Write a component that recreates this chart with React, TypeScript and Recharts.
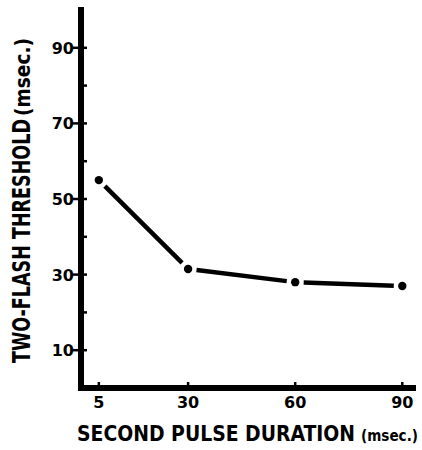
import React from 'react';
import { LineChart, Line, XAxis, YAxis, Label } from 'recharts';

const durations = [5, 30, 60, 90];
const thresholds = [55, 31.5, 28, 27];
const xTicks = [5, 30, 60, 90];
const yTicks = [10, 20, 30, 40, 50, 60, 70, 80, 90];
const yLabeled = [10, 30, 50, 70, 90];

const data = durations.map((d, i) => ({ d, t: thresholds[i] }));

const FONT = '"DejaVu Sans", sans-serif';
const COND = '"DejaVu Sans Condensed", "Liberation Sans Narrow", "DejaVu Sans", sans-serif';

const YTick = (props: any) => {
  const { x, y, payload } = props;
  const labeled = yLabeled.includes(payload.value);
  const ax = x;
  return (
    <g>
      <line x1={labeled ? ax - 8 : ax} x2={ax + 6} y1={y} y2={y} stroke="#000" strokeWidth={2.5} />
      {labeled && (
        <text x={ax - 7} y={y + 6} textAnchor="end" fontFamily={FONT} fontWeight="bold" fontSize={16} fill="#000">
          {payload.value}
        </text>
      )}
    </g>
  );
};

const XTick = (props: any) => {
  const { x, y, payload } = props;
  return (
    <g>
      <line x1={x} x2={x} y1={y} y2={y - 8} stroke="#000" strokeWidth={2.5} />
      <text x={x} y={y + 18} textAnchor="middle" fontFamily={FONT} fontWeight="bold" fontSize={16} fill="#000">
        {payload.value}
      </text>
    </g>
  );
};

const GAP = 8.5;

const Dot = (props: any) => {
  const { cx, cy, index, points } = props;
  if (cx == null || cy == null) return null;
  let seg = null;
  const next = points && points[index + 1];
  if (next && next.x != null && next.y != null) {
    const dx = next.x - cx;
    const dy = next.y - cy;
    const len = Math.sqrt(dx * dx + dy * dy);
    if (len > 2 * GAP) {
      const ux = dx / len;
      const uy = dy / len;
      seg = (
        <line
          x1={cx + ux * GAP}
          y1={cy + uy * GAP}
          x2={next.x - ux * GAP}
          y2={next.y - uy * GAP}
          stroke="#000"
          strokeWidth={4.5}
        />
      );
    }
  }
  return (
    <g>
      {seg}
      <circle cx={cx} cy={cy} r={4.2} fill="#000" />
    </g>
  );
};

const XTitle = (props: any) => {
  const { viewBox } = props;
  const by = viewBox.y + 53;
  return (
    <g>
      <text x={77} y={by} fontFamily={COND} fontWeight="bold" fontSize={21} fill="#000" textLength={278} lengthAdjust="spacingAndGlyphs">
        SECOND PULSE DURATION
      </text>
      <text x={361} y={by} fontFamily={COND} fontWeight="bold" fontSize={15} fill="#000" textLength={57} lengthAdjust="spacingAndGlyphs">
        (msec.)
      </text>
    </g>
  );
};

const YTitle = () => {
  const bx = 30;
  return (
    <g>
      <text x={0} y={0} transform={`translate(${bx},363) rotate(-90)`} fontFamily={COND} fontWeight="bold" fontSize={25} fill="#000" textLength={244} lengthAdjust="spacingAndGlyphs">
        TWO-FLASH THRESHOLD
      </text>
      <text x={0} y={0} transform={`translate(${bx},116) rotate(-90)`} fontFamily={COND} fontWeight="bold" fontSize={22} fill="#000" textLength={78} lengthAdjust="spacingAndGlyphs">
        (msec.)
      </text>
    </g>
  );
};

const AXIS_LINE = { stroke: '#000', strokeWidth: 6, strokeLinecap: 'square' as const };

export default function App() {
  return (
    <div style={{ position: 'absolute', left: 0, top: 0, background: '#fff' }}>
      <LineChart width={422} height={450} data={data} margin={{ top: 10, right: 9, bottom: 0, left: 0 }}>
        <XAxis
          dataKey="d"
          type="number"
          domain={[0, 93]}
          ticks={xTicks}
          tick={<XTick />}
          tickLine={false}
          tickSize={0}
          height={62}
          axisLine={AXIS_LINE}
        >
          <Label content={<XTitle />} />
        </XAxis>
        <YAxis
          type="number"
          domain={[0, 100]}
          ticks={yTicks}
          tick={<YTick />}
          tickLine={false}
          tickSize={0}
          tickMargin={0}
          width={81}
          axisLine={AXIS_LINE}
        >
          <Label content={<YTitle />} />
        </YAxis>
        <Line
          dataKey="t"
          stroke="none"
          strokeWidth={0}
          dot={<Dot />}
          activeDot={false}
          isAnimationActive={false}
        />
      </LineChart>
    </div>
  );
}
